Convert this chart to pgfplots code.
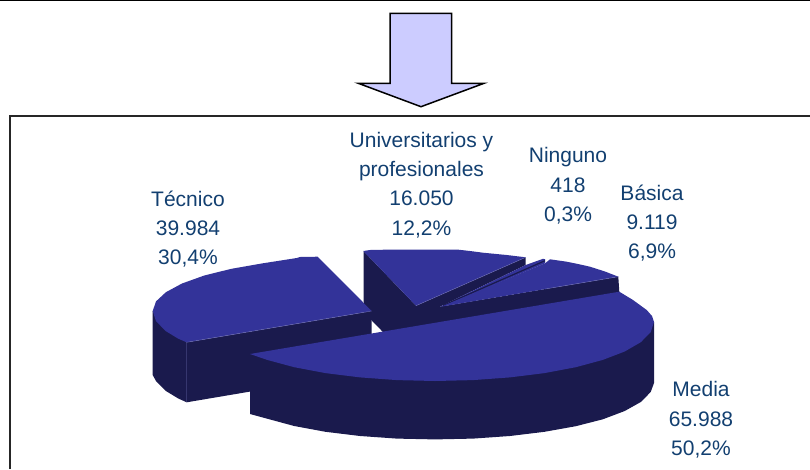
\documentclass[border=0pt]{standalone}
\usepackage{pgfplots}
\pgfplotsset{compat=1.18}
\usepackage{fontspec}
\setmainfont{Liberation Sans}
\definecolor{topc}{HTML}{333399}
\definecolor{sidec}{HTML}{1A1A4D}
\definecolor{edgec}{HTML}{6A6AB0}
\definecolor{txt}{HTML}{123F70}
\definecolor{arrowc}{HTML}{CCCCFF}
\begin{document}
\begin{tikzpicture}[x=1pt,y=1pt]
\begin{axis}[hide axis,scale only axis,width=810pt,height=469pt,xmin=0,xmax=810,ymin=0,ymax=469,y dir=reverse,clip=true]
% page rules
\addplot[black,line width=1.2pt] coordinates {(0,0.6) (810,0.6)};
\addplot[black!85,line width=1.2pt] coordinates {(10,469) (10,116) (810,116)};
% arrow
\addplot[fill=arrowc,draw=black,line width=1.5pt] coordinates {(390,13.3) (451.7,13.3) (451.7,83.3) (484,83.3) (421,106.7) (358.3,83.3) (390,83.3)} --cycle;
% Universitarios side
\addplot[fill=sidec,draw=none] coordinates {(363.5,251) (416,305.7) (525.7,257.3) (525.7,265) (440,306.7) (440,330) (416,366) (363.5,312)} --cycle;
% Universitarios top
\addplot[fill=topc,draw=none] coordinates {(363.3,251) (370,250) (395,249.5) (416,249.5) (440,249.5) (456.7,249.5) (470,251) (483,252.7) (506.7,255) (525.7,257.3) (416,305.7)} --cycle;
\addplot[edgec,line width=0.4pt] coordinates {(416,305.7) (525.7,257.3)};
% Ninguno top and side
\addplot[fill=topc,draw=none] coordinates {(440,306.7) (525.7,265) (543,258.8) (545,259.2) (545,263.3) (443,306.7)} --cycle;
\addplot[sidec,line width=1.2pt] coordinates {(443,305.5) (545,260.7)};
% Basica side
\addplot[fill=sidec,draw=none] coordinates {(440,306.7) (618.3,276.7) (619.3,292) (420,340)} --cycle;
% Basica top
\addplot[fill=topc,draw=none] coordinates {(441,306.7) (545,263.3) (550,259.3) (566.7,261.7) (578,264) (590,266.7) (605,271.5) (618.3,276.7)} --cycle;
\addplot[edgec,line width=0.4pt] coordinates {(545,289) (618.3,276.7)};
% Tecnico side
\addplot[fill=sidec,draw=none] coordinates {(152.7,311) (152.7,375) (156,381) (165.9,391) (178.3,398.5) (186.7,402.3) (371.7,371) (371.7,311) (186.7,342.3)} --cycle;
% Tecnico top
\addplot[fill=topc,draw=none] coordinates {(371.7,311) (317.7,256.7) (300,257) (296.8,258) (262.2,263.4) (230.9,268.9) (204,275.6) (182,283.5) (165.9,292.2) (156,301.4) (152.7,311) (156,321.2) (165.9,331.2) (178.3,338.7) (186.7,342.3)} --cycle;
\addplot[edgec,line width=0.4pt] coordinates {(186.7,402) (186.7,342.3) (371.7,311)};
% Media side
\addplot[fill=sidec,draw=none] coordinates {(250,354) (250,414) (267.2,418.7) (294.2,426) (325.5,431.8) (360.1,436) (397,438.6) (435,439.4) (473,438.6) (509.9,436) (544.5,431.8) (575.8,426.2) (602.8,419.3) (624.7,411) (640.8,402) (650.7,392) (654,383) (654,322)} --cycle;
% Media top
\addplot[fill=topc,draw=none] coordinates {(250,354) (619.3,291.7) (633,300) (646.7,310) (652,316) (654,322) (650.7,332.2) (640.8,342.2) (624.7,351.5) (602.8,359.9) (575.8,367.2) (544.5,373.1) (509.9,377.4) (473,380.1) (435,381) (397,380.1) (360.1,377.4) (325.5,373.1) (294.2,367.2) (267.2,359.9)} --cycle;
% labels
\tikzset{lab/.style={text=txt,font=\fontsize{21}{29.3}\selectfont,align=center,anchor=center,inner sep=0pt}}
\node[lab] at (axis cs:421.5,185) {Universitarios y\\profesionales\\16.050\\12,2\%};
\node[lab] at (axis cs:188,229) {Técnico\\39.984\\30,4\%};
\node[lab] at (axis cs:568,186) {Ninguno\\418\\0,3\%};
\node[lab] at (axis cs:652,223) {Básica\\9.119\\6,9\%};
\node[lab] at (axis cs:701,420) {Media\\65.988\\50,2\%};
\end{axis}
\end{tikzpicture}
\end{document}
